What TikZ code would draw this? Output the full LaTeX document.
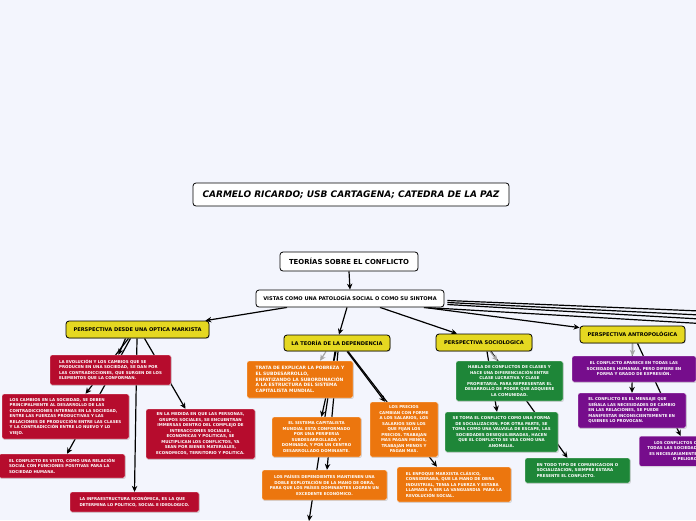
\documentclass[tikz,border=0pt]{standalone}
\usepackage{fontspec}
\setmainfont{DejaVu Sans}
\usetikzlibrary{arrows.meta,shadows,backgrounds}
\definecolor{fondo}{RGB}{243,245,253}
\definecolor{amarillo}{RGB}{229,216,33}
\definecolor{rojo}{RGB}{182,12,45}
\definecolor{naranja}{RGB}{236,118,14}
\definecolor{verde}{RGB}{30,134,56}
\definecolor{morado}{RGB}{118,13,140}
\definecolor{gris}{RGB}{165,165,165}
\tikzset{
  sombra/.style={drop shadow={shadow xshift=0.8pt, shadow yshift=-0.9pt, opacity=0.3}},
  caja/.style={draw=black, fill=white, line width=0.8pt, rounded corners=3pt, inner sep=0pt},
  perspectiva/.style={caja, fill=amarillo, sombra, font=\fontsize{5.1}{6}\selectfont\bfseries},
  hoja/.style={draw=white, line width=0.3pt, rounded corners=2pt, inner sep=0pt, text=white, sombra,
    font=\fontsize{4}{5.5}\selectfont\bfseries},
  roja/.style={hoja, fill=rojo},
  anaranjada/.style={hoja, fill=naranja},
  verdosa/.style={hoja, fill=verde},
  morada/.style={hoja, fill=morado},
  flecha/.style={line width=1.2pt, -{Stealth[length=6pt, width=5.5pt]}},
  flechagris/.style={flecha, draw=gris},
  rama/.style={line width=1.2pt},
}
\begin{document}
\begin{tikzpicture}[x=1pt, y=-1pt, line cap=round, line join=round]
  \useasboundingbox (0,0) rectangle (696,520);
  % el titulo y la raiz
  \node[caja, minimum width=316pt, minimum height=23pt, font=\fontsize{9}{10}\selectfont\bfseries\itshape]
    (titulo) at (351,194.5) {CARMELO RICARDO; USB CARTAGENA; CATEDRA DE LA PAZ};
  \node[caja, minimum width=138pt, minimum height=19pt, font=\fontsize{6.9}{8}\selectfont\bfseries]
    (teorias) at (349,261.5) {TEORÍAS SOBRE EL CONFLICTO};
  \node[caja, minimum width=188pt, minimum height=17pt, font=\fontsize{5.1}{6}\selectfont\bfseries]
    (vistas) at (350,298.5) {VISTAS COMO UNA PATOLOGÍA SOCIAL O COMO SU SINTOMA};
  % las cuatro perspectivas
  \node[perspectiva, minimum width=143pt, minimum height=17pt] (markista) at (137.5,329.5) {PERSPECTIVA DESDE UNA OPTICA MARKISTA};
  \node[perspectiva, minimum width=106pt, minimum height=16pt] (dependencia) at (337,343) {LA TEORÍA DE LA DEPENDENCIA};
  \node[perspectiva, minimum width=96pt, minimum height=17pt] (sociologica) at (484,342.5) {PERSPECTIVA SOCIOLOGICA};
  \node[perspectiva, minimum width=105pt, minimum height=17pt] (antropologica) at (632.5,334.5) {PERSPECTIVA ANTROPOLÓGICA};
  % la optica markista, en rojo
  \node[roja, minimum width=121pt, minimum height=30pt, align=left] (evolucion) at (110.5,370)
    {LA EVOLUCIÓN Y LOS CAMBIOS QUE SE\\PRODUCEN EN UNA SOCIEDAD, SE DAN POR\\LAS CONTRADICCIONES, QUE SURGEN DE LOS\\ELEMENTOS QUE LA CONFORMAN.};
  \node[roja, minimum width=127pt, minimum height=45pt, align=left] (cambios) at (65.5,416.5)
    {LOS CAMBIOS EN LA SOCIEDAD, SE DEBEN\\PRINCIPALMENTE AL DESARROLLO DE LAS\\CONTRADICCIONES INTERNAS EN LA SOCIEDAD,\\ENTRE LAS FUERZAS PRODUCTIVAS Y LAS\\RELACIONES DE PRODUCCIÓN ENTRE LAS CLASES\\Y LA CONTRADICCIÓN ENTRE LO NUEVO Y LO\\VIEJO.};
  \node[roja, minimum width=126pt, minimum height=24pt, align=left] (visto) at (62,466)
    {EL CONFLICTO ES VISTO, COMO UNA RELACIÓN\\SOCIAL CON FUNCIONES POSITIVAS PARA LA\\SOCIEDAD HUMANA.};
  \node[roja, minimum width=109pt, minimum height=50pt, align=center] (medida) at (200.5,434)
    {EN LA MEDIDA EN QUE LAS PERSONAS,\\GRUPOS SOCIALES, SE ENCUENTRAN\\IMMERSAS DENTRO DEL COMPLEJO DE\\INTERACCIONES SOCIALES,\\ECONOMICAS Y POLITICAS, SE\\MULTIPLICAN LOS CONFLICTOS, YA\\SEAN POR BIENES MATERIALES,\\ECONOMICOS, TERRITORIO Y POLITICA.};
  \node[roja, minimum width=129pt, minimum height=20pt, align=left] (infra) at (134.5,502)
    {LA INFRAESTRUCTURA ECONÓMICA, ES LA QUE\\DETERMINA LO POLITICO, SOCIAL E IDEOLOGICO.};
  % la dependencia, en naranja
  \node[anaranjada, minimum width=106pt, minimum height=37pt, align=left, font=\fontsize{4.5}{5.6}\selectfont\bfseries]
    (trata) at (300,379.5)
    {TRATA DE EXPLICAR LA POBREZA Y\\EL SUBDESARROLLO,\\ENFATIZANDO LA SUBORDINACIÓN\\A LA ESTRUCTURA DEL SISTEMA\\CAPITALISTA MUNDIAL.};
  \node[anaranjada, minimum width=89pt, minimum height=40pt, align=center] (sistema) at (316.5,437)
    {EL SISTEMA CAPITALISTA\\MUNDIAL ESTA CONFORMADO\\POR UNA PERIFERIA\\SUBDESARROLLADA Y\\DOMINADA, Y POR UN CENTRO\\DESARROLLADO DOMINANTE.};
  \node[anaranjada, minimum width=125pt, minimum height=30pt, align=center] (paises) at (324.5,485)
    {LOS PAÍSES DEPENDIENTES MANTIENEN UNA\\DOBLE EXPLOTACIÓN DE LA MANO DE OBRA,\\PARA QUE LOS PAÍSES DOMINANTES LOGREN UN\\EXCEDENTE ECONÓMICO.};
  \node[anaranjada, minimum width=68pt, minimum height=55pt, align=center] (precios) at (404,429.5)
    {LOS PRECIOS\\CAMBIAN CON FORME\\A LOS SALARIOS, LOS\\SALARIOS SON LOS\\QUE FIJAN LOS\\PRECIOS. TRABAJAN\\MAS PAGAN MENOS,\\TRABAJAN MENOS Y\\PAGAN MAS.};
  \node[anaranjada, minimum width=114pt, minimum height=35pt, align=left] (enfoque) at (454,484.5)
    {EL ENFOQUE MARXISTA CLÁSICO,\\CONSIDERABA, QUE LA MANO DE OBRA\\INDUSTRIAL, TENIA LA FUERZA Y ESTABA\\LLAMADA A SER LA VANGUARDIA \ PARA LA\\REVOLUCIÓN SOCIAL.};
  % la sociologica, en verde
  \node[verdosa, minimum width=107pt, minimum height=40pt, align=center] (habla) at (509.5,381)
    {HABLA DE CONFLICTOS DE CLASES Y\\HACE UNA DIFERENCIACIÓN ENTRE\\CLASE LUCRATIVA Y CLASE\\PROPIETARIA. PARA REPRESENTAR EL\\DESARROLLO DE PODER QUE ADQUIERE\\LA COMUNIDAD.};
  \node[verdosa, minimum width=113pt, minimum height=40pt, align=center] (toma) at (501.5,432)
    {SE TOMA EL CONFLICTO COMO UNA FORMA\\DE SOCIALIZACION. POR OTRA PARTE, SE\\TOMA COMO UNA VALVULA DE ESCAPE, LAS\\SOCIEDADES DESEQUILIBRADAS, HACEN\\QUE EL CONFLICTO SE VEA COMO UNA\\ANOMALIA.};
  \node[verdosa, minimum width=105pt, minimum height=25pt, align=left] (comunicacion) at (577.5,470.5)
    {EN TODO TIPO DE COMUNICACION O\\SOCIALIZACION, SIEMPRE ESTARA\\PRESENTE EL CONFLICTO.};
  % la antropologica, en morado
  \node[morada, minimum width=124pt, minimum height=26pt, align=center] (aparece) at (634,369)
    {EL CONFLICTO APARECE EN TODAS LAS\\SOCIEDADES HUMANAS, PERO DIFIERE EN\\FORMA Y GRADO DE EXPRESIÓN.};
  \node[morada, minimum width=108pt, minimum height=35pt, align=left] (mensaje) at (632,410.5)
    {EL CONFLICTO ES EL MENSAJE QUE\\SEÑALA LAS NECESIDADES DE CAMBIO\\EN LAS RELACIONES, SE PUEDE\\MANIFESTAR INCONSCIENTEMENTE EN\\QUIENES LO PROVOCAN.};
  \node[morada, anchor=north west, inner xsep=5pt, text width=53pt, minimum height=30pt, align=right] (ocurren) at (639,436)
    {LOS CONFLICTOS O\\TODAS LAS SOCIEDAD\\ES NECESARIAMENTE\\O PELIGRO};
  % los puntos de fuera del papel
  \foreach \i/\y in {1/311,2/315,3/319,4/323.5} \coordinate (fuera\i) at (700,\y);
  \coordinate (abajo) at (309,521);
  \begin{scope}[on background layer]
    \fill[fondo] (0,0) rectangle (696,520);
    % la raiz y sus ramas
    \draw[flecha] (teorias.south) -- (vistas.north);
    \draw[flecha] ([xshift=-63pt]vistas.south) -- ([xshift=-4pt]markista.north east);
    \draw[flecha] ([xshift=-3pt]vistas.south) -- ([xshift=2pt]dependencia.north);
    \draw[flecha] ([xshift=30pt]vistas.south) -- ([xshift=-27pt]sociologica.north);
    \draw[flecha] ([xshift=74pt]vistas.south) -- ([yshift=-2pt]antropologica.north west);
    \draw[rama] ([xshift=74pt]vistas.south) -- (fuera4);
    \foreach \i/\d in {1/-2,2/-4,3/-6} \draw[rama] ([xshift=3pt, yshift=\d pt]vistas.east) -- (fuera\i);
    % la optica markista
    \draw[flecha] ([xshift=-12pt]markista.south) -- ([xshift=8pt]evolucion.north);
    \draw[flecha] ([xshift=-9pt]markista.south) -- ([xshift=20pt]cambios.north);
    \draw[flecha] ([xshift=-7pt]markista.south) -- ([xshift=5pt]visto.north);
    \draw[flecha] ([xshift=-0.5pt]markista.south) -- (infra.north);
    \draw[flecha] ([xshift=7pt]markista.south) -- ([xshift=-15pt]medida.north);
    % la dependencia
    \draw[flecha] ([xshift=-1pt]dependencia.south) -- ([xshift=5pt]sistema.north);
    \draw[flecha] ([xshift=1pt]dependencia.south) -- ([xshift=2.5pt]paises.north);
    \draw[flecha] ([xshift=-2pt]dependencia.south) -- (abajo);
    \draw[flecha] ([xshift=10pt]dependencia.south) -- ([xshift=-19pt]precios.north);
    \draw[flecha] ([xshift=11pt]dependencia.south) -- ([xshift=-17pt]enfoque.north);
    \draw[flechagris] ([xshift=-11pt]dependencia.south) -- ([xshift=20pt]trata.north);
    % la sociologica
    \draw[flecha] ([xshift=3pt]sociologica.south) -- ([xshift=-4.5pt]toma.north);
    \draw[flecha] ([xshift=7pt]sociologica.south) -- ([xshift=-10pt]comunicacion.north);
    \draw[flechagris] ([xshift=6pt]sociologica.south) -- ([xshift=-12pt]habla.north);
    % la antropologica
    \draw[flecha] (antropologica.south) -- (mensaje.north);
    \draw[flecha] ([xshift=5pt]antropologica.south) -- ([xshift=10pt]ocurren.north);
    \draw[flechagris] (antropologica.south) -- ([xshift=-1.5pt]aparece.north);
  \end{scope}
\end{tikzpicture}
\end{document}
